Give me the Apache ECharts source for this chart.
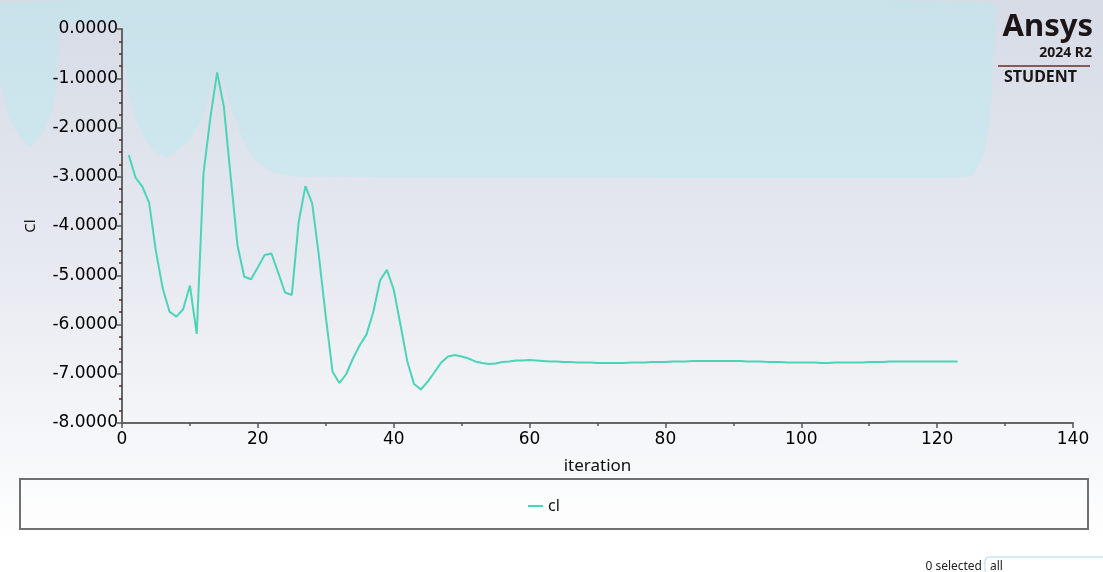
<!DOCTYPE html>
<html>
<head>
<meta charset="utf-8">
<script src="https://cdn.jsdelivr.net/npm/echarts@6/dist/echarts.min.js"></script>
<style>
html,body{margin:0;padding:0;width:1103px;height:572px;overflow:hidden;background:#fff;}
#chart{width:1103px;height:572px;}
</style>
</head>
<body>
<div id="chart"></div>
<script>
// ---- data ----
const firstIteration = 1;
const clValues = [
  -2.56,-3.02,-3.20,-3.53,-4.52,-5.27,-5.74,-5.84,-5.69,-5.21,
  -6.19,-2.93,-1.81,-0.88,-1.58,-3.00,-4.39,-5.03,-5.08,-4.84,
  -4.59,-4.56,-4.95,-5.35,-5.40,-3.93,-3.19,-3.54,-4.62,-5.84,
  -6.96,-7.19,-7.01,-6.69,-6.42,-6.20,-5.74,-5.10,-4.89,-5.29,
  -6.01,-6.75,-7.21,-7.32,-7.16,-6.97,-6.77,-6.65,-6.62,-6.65,
  -6.69,-6.75,-6.78,-6.80,-6.79,-6.76,-6.75,-6.73,-6.73,-6.72,
  -6.73,-6.74,-6.75,-6.75,-6.76,-6.76,-6.77,-6.77,-6.77,-6.78,
  -6.78,-6.78,-6.78,-6.78,-6.77,-6.77,-6.77,-6.76,-6.76,-6.76,
  -6.75,-6.75,-6.75,-6.74,-6.74,-6.74,-6.74,-6.74,-6.74,-6.74,
  -6.74,-6.75,-6.75,-6.75,-6.76,-6.76,-6.76,-6.77,-6.77,-6.77,
  -6.77,-6.77,-6.78,-6.78,-6.77,-6.77,-6.77,-6.77,-6.77,-6.76,
  -6.76,-6.76,-6.75,-6.75,-6.75,-6.75,-6.75,-6.75,-6.75,-6.75,
  -6.75,-6.75,-6.75
];
const seriesName = 'cl';
const xAxisName = 'iteration';
const yAxisName = 'Cl';
const xRange = [0, 140];
const yRange = [-8, 0];

const points = clValues.map((v, i) => [firstIteration + i, v]);

const FONT = 'Noto Sans';
const TICKFONT = 'DejaVu Sans';
const chart = echarts.init(document.getElementById('chart'));

const wmFill = 'rgba(178,236,242,0.38)';

chart.setOption({
  animation: false,
  backgroundColor: {
    type: 'linear', x: 0, y: 0, x2: 0, y2: 1,
    colorStops: [
      {offset: 0, color: '#d6dbe6'},
      {offset: 0.45, color: '#e6e9f0'},
      {offset: 0.8, color: '#f7f8fa'},
      {offset: 0.95, color: '#ffffff'},
      {offset: 1, color: '#ffffff'}
    ]
  },
  graphic: [
    // watermark band
    {type: 'polygon', z: -10, silent: true,
      shape: {smooth: 0.12, points: [
        [0,3],[993,3],[993,60],[991,110],[985,150],[972,176],[900,178],[300,177],
        [272,172],[255,160],[243,140],[232,110],[222,80],[215,72],[210,90],
        [203,117],[190,140],[175,153],[167,157],[155,152],[142,135],[130,100],
        [124,60],[120,25],[60,25],[57,60],[55,100],[45,130],[30,147],[15,130],[5,105],[0,80]
      ]},
      style: {fill: wmFill}
    },
    // legend box
    {type: 'rect', z: 1, silent: true,
      shape: {x: 20, y: 479, width: 1068, height: 50},
      style: {fill: 'rgba(255,255,255,0.25)', stroke: '#707070', lineWidth: 2}
    },
    // Ansys logo
    {type: 'text', z: 5, style: {
      x: 1093, y: 12, text: 'Ansys', align: 'right', verticalAlign: 'top',
      font: 'bold 31px ' + FONT, fill: '#1c1416'}},
    {type: 'text', z: 5, style: {
      x: 1092, y: 46, text: '2024 R2', align: 'right', verticalAlign: 'top',
      font: 'bold 14px ' + FONT, fill: '#1c1416'}},
    {type: 'line', z: 5, shape: {x1: 998, y1: 66, x2: 1090, y2: 66},
      style: {stroke: '#6b2a2a', lineWidth: 1.5}},
    {type: 'text', z: 5, style: {
      x: 1004, y: 69, text: 'STUDENT', align: 'left', verticalAlign: 'top',
      font: 'bold 16px ' + FONT, fill: '#1c1416'}},
    // bottom selection controls
    {type: 'text', z: 5, style: {
      x: 982, y: 567, text: '0 selected', align: 'right', verticalAlign: 'middle',
      font: '12px ' + FONT, fill: '#222'}},
    {type: 'rect', z: 5, shape: {x: 985, y: 557, width: 130, height: 30, r: [4,0,0,0]},
      style: {fill: '#ffffff', stroke: '#a9dde7', lineWidth: 1}},
    {type: 'text', z: 6, style: {
      x: 990, y: 567, text: 'all', align: 'left', verticalAlign: 'middle',
      font: '12px ' + FONT, fill: '#222'}}
  ],
  grid: {left: 122, right: 30, top: 29, bottom: 149, containLabel: false},
  legend: {
    data: [seriesName],
    left: 523, top: 493,
    icon: 'rect', itemWidth: 15, itemHeight: 2, itemGap: 6,
    textStyle: {fontFamily: FONT, fontSize: 16, color: '#111'}
  },
  xAxis: {
    type: 'value', min: xRange[0], max: xRange[1], interval: 20,
    name: xAxisName, nameLocation: 'middle', nameGap: 35,
    nameTextStyle: {fontFamily: FONT, fontSize: 17, color: '#111'},
    axisLine: {show: true, onZero: false, lineStyle: {color: '#666', width: 2}},
    axisTick: {show: true, length: 5, lineStyle: {color: '#555', width: 1.5}},
    minorTick: {show: true, splitNumber: 2, length: 3, lineStyle: {color: '#555', width: 1.5}},
    axisLabel: {fontFamily: TICKFONT, fontSize: 17, color: '#000', margin: 8},
    splitLine: {show: false}
  },
  yAxis: {
    type: 'value', min: yRange[0], max: yRange[1], interval: 1,
    name: yAxisName, nameLocation: 'middle', nameGap: 84, nameRotate: 90,
    nameTextStyle: {fontFamily: FONT, fontSize: 15, color: '#111'},
    axisLine: {show: true, onZero: false, lineStyle: {color: '#666', width: 2}},
    axisTick: {show: true, length: 5, lineStyle: {color: '#555', width: 1.5}},
    minorTick: {show: true, splitNumber: 4, length: 3, lineStyle: {color: '#5a2b2b', width: 1.5}},
    axisLabel: {fontFamily: TICKFONT, fontSize: 17, color: '#000', margin: 4,
      formatter: v => v.toFixed(4)},
    splitLine: {show: false}
  },
  series: [{
    name: seriesName, type: 'line', data: points,
    showSymbol: false, symbol: 'none',
    lineStyle: {color: '#4bd4b8', width: 2},
    itemStyle: {color: '#4bd4b8'}
  }]
});
</script>
</body>
</html>
